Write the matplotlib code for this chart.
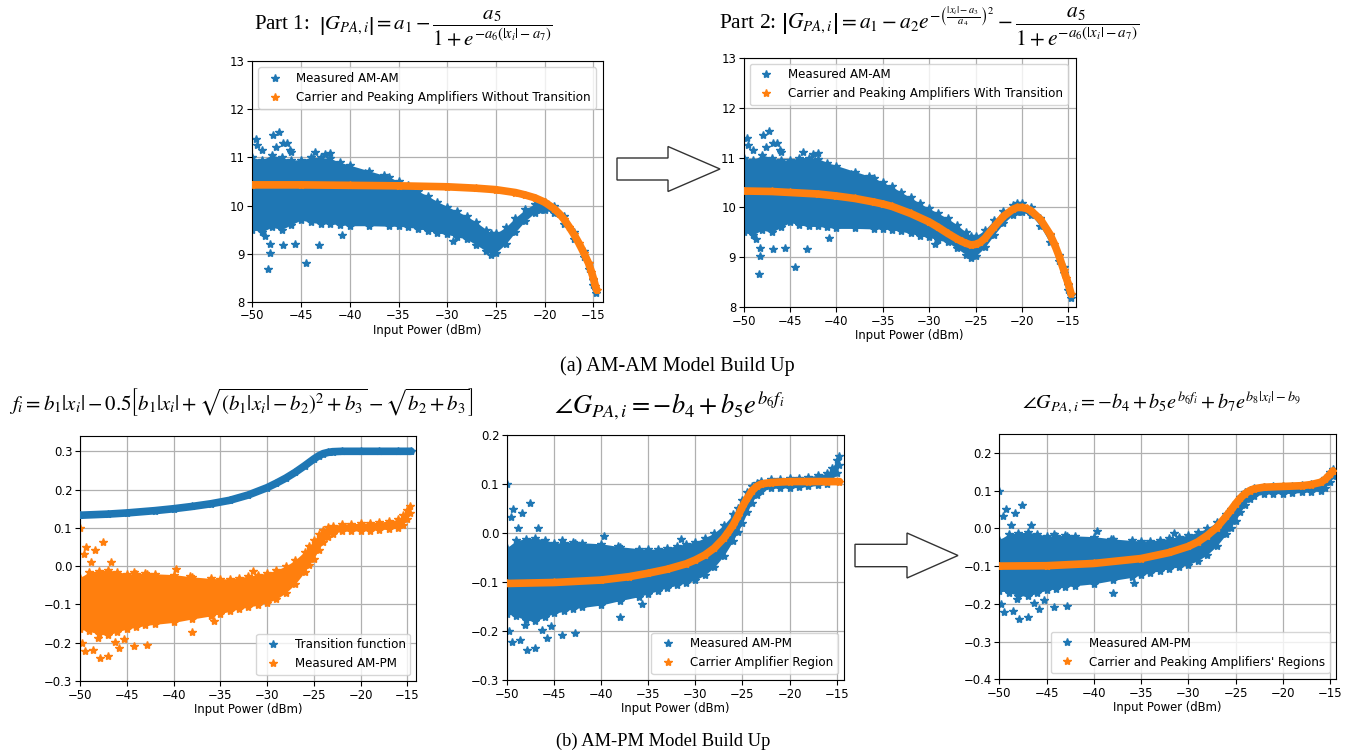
import matplotlib
matplotlib.use("Agg")
import matplotlib.pyplot as plt
from matplotlib.patches import Polygon

# ---------------- data ----------------
# Measured AM-AM cloud: envelope + isolated outliers
am_x = [-50, -49, -48, -47, -46, -45, -44, -43, -42, -41, -40, -38, -36, -35, -34, -33,
        -32, -31, -30, -29, -28, -27, -26, -25.5, -25, -24, -23, -22, -21, -20.5, -20,
        -19, -18, -17, -16, -15.5, -15, -14.7]
am_upper = [11.0, 10.95, 11.05, 11.0, 10.95, 10.95, 11.0, 11.0, 10.98, 10.9, 10.84, 10.72,
            10.6, 10.5, 10.42, 10.3, 10.2, 10.08, 9.98, 9.88, 9.78, 9.65, 9.5, 9.42, 9.42,
            9.55, 9.75, 9.92, 10.04, 10.08, 10.08, 10.0, 9.78, 9.45, 9.05, 8.8, 8.45, 8.25]
am_lower = [9.5, 9.45, 9.55, 9.5, 9.6, 9.7, 9.65, 9.62, 9.62, 9.6, 9.58, 9.58, 9.57, 9.57,
            9.55, 9.52, 9.48, 9.43, 9.4, 9.35, 9.3, 9.18, 9.05, 8.98, 9.02, 9.2, 9.45, 9.68,
            9.85, 9.9, 9.9, 9.85, 9.62, 9.3, 8.92, 8.68, 8.35, 8.18]
am_out_x = [-49.6, -49.5, -47.9, -47.3, -47.6, -46.8, -46.0, -43.6, -42.0, -42.5, -38.4,
            -36.5, -40.8, -43.2, -44.5, -45.6, -46.8, -48.2, -48.2, -48.4, -48.7, -29.4,
            -46.1, -46.4, -49.0]
am_out_y = [11.39, 11.25, 11.46, 11.53, 11.22, 11.30, 11.12, 11.12, 11.10, 11.08, 10.68,
            10.64, 9.38, 9.17, 8.81, 9.19, 9.17, 9.02, 9.19, 8.67, 9.36, 9.26, 11.15, 11.3,
            11.15]

# Part 1 model (without transition)
fit1_x = [-50, -45, -40, -35, -30, -27, -25, -23, -22, -21, -20, -19, -18.5, -18, -17.5,
          -17, -16.5, -16, -15.5, -15.2, -15, -14.8, -14.65]
fit1_y = [10.43, 10.43, 10.42, 10.41, 10.39, 10.36, 10.33, 10.27, 10.22, 10.16, 10.07,
          9.93, 9.83, 9.71, 9.56, 9.4, 9.22, 9.02, 8.8, 8.62, 8.48, 8.33, 8.24]

# Part 2 model (with transition)
fit2_x = [-50, -47, -45, -42, -40, -38, -36, -35, -34, -32, -30, -29, -28, -27, -26.5,
          -26, -25.5, -25, -24.5, -24, -23, -22, -21, -20.5, -20, -19.5, -19, -18, -17,
          -16.5, -16, -15.5, -15.2, -15, -14.7]
fit2_y = [10.33, 10.32, 10.3, 10.27, 10.23, 10.18, 10.11, 10.07, 10.02, 9.88, 9.71, 9.6,
          9.48, 9.37, 9.32, 9.28, 9.25, 9.26, 9.3, 9.38, 9.61, 9.82, 9.96, 10.0, 10.0,
          9.98, 9.93, 9.76, 9.47, 9.27, 9.03, 8.75, 8.58, 8.47, 8.27]

# Measured AM-PM cloud: envelope + isolated outliers
pm_x = [-50, -49, -48, -47, -46, -45, -44, -43, -42, -40, -38, -36, -35, -34, -33, -32,
        -31, -30, -29, -28, -27, -26, -25.5, -25, -24.5, -24, -23.5, -23, -22, -21, -20,
        -19, -18, -17, -16, -15.5, -15, -14.7]
pm_upper = [-0.03, -0.015, -0.012, -0.01, -0.014, -0.02, -0.02, -0.018, -0.02, -0.022,
            -0.028, -0.032, -0.033, -0.033, -0.03, -0.026, -0.022, -0.018, -0.01, 0.0,
            0.016, 0.038, 0.052, 0.068, 0.083, 0.095, 0.102, 0.106, 0.11, 0.111, 0.112,
            0.113, 0.115, 0.118, 0.122, 0.133, 0.148, 0.157]
pm_lower = [-0.165, -0.17, -0.178, -0.18, -0.172, -0.164, -0.16, -0.155, -0.152, -0.147,
            -0.138, -0.13, -0.124, -0.118, -0.112, -0.107, -0.102, -0.096, -0.086, -0.07,
            -0.047, -0.016, 0.002, 0.02, 0.042, 0.062, 0.077, 0.085, 0.091, 0.092, 0.092,
            0.093, 0.095, 0.097, 0.099, 0.108, 0.122, 0.138]
pm_out_x = [-47.56, -49.33, -48.37, -49.58, -46.67, -48.8, -44.2, -42.8, -39.7, -38.2,
            -31.5, -35.7, -38.0, -42.8, -44.2, -45.8, -47.0, -47.9, -49.5, -48.6, -46.3,
            -48.1, -50.0, -49.8, -45.3]
pm_out_y = [0.062, 0.05, 0.041, 0.033, 0.01, 0.01, -0.014, -0.02, -0.007, -0.027, -0.013,
            -0.144, -0.171, -0.205, -0.208, -0.215, -0.235, -0.239, -0.222, -0.218, -0.198,
            -0.188, 0.1, -0.2, -0.19]

# Transition function
trans_x = [-50, -47, -45, -42, -40, -38, -36, -34, -32, -30, -29, -28, -27, -26, -25,
           -24.5, -24, -23.5, -23, -22, -20, -18, -16, -14.6]
trans_y = [0.133, 0.136, 0.139, 0.145, 0.150, 0.156, 0.163, 0.172, 0.186, 0.205, 0.217,
           0.23, 0.245, 0.262, 0.28, 0.288, 0.294, 0.297, 0.299, 0.3, 0.3, 0.3, 0.3, 0.3]

# Carrier amplifier region model
carrier_x = [-50, -45, -40, -37, -35, -33, -31, -30, -29, -28, -27, -26.5, -26, -25.5,
             -25, -24.5, -24, -23.5, -23, -22, -20, -18, -16, -14.7]
carrier_y = [-0.103, -0.101, -0.096, -0.089, -0.082, -0.074, -0.063, -0.055, -0.045,
             -0.031, -0.011, 0.002, 0.016, 0.034, 0.054, 0.071, 0.086, 0.095, 0.1, 0.103,
             0.105, 0.105, 0.105, 0.105]

# Carrier and peaking amplifiers' regions model
full_x = [-50, -45, -40, -35, -32, -30, -29, -28, -27, -26, -25.5, -25, -24.5, -24, -23.5,
          -23, -22, -20, -18, -17, -16, -15.5, -15, -14.7]
full_y = [-0.1, -0.099, -0.093, -0.08, -0.064, -0.048, -0.036, -0.019, 0.002, 0.032,
          0.048, 0.065, 0.08, 0.092, 0.1, 0.105, 0.109, 0.111, 0.113, 0.116, 0.122, 0.13,
          0.143, 0.152]

x_ticks = [-50, -45, -40, -35, -30, -25, -20, -15]

# ---------------- drawing ----------------
plt.rcParams['mathtext.fontset'] = 'stix'
W, H = 1352, 752
fig = plt.figure(figsize=(W / 100, H / 100), dpi=100)
BLUE, ORANGE = '#1f77b4', '#ff7f0e'
FS_TICK = 8.4
FS_LEG = 8.6


def rect(l, t, r, b):
    return [l / W, 1 - b / H, (r - l) / W, (b - t) / H]


def style(ax, ylim, yticks, xmax):
    ax.set_axisbelow(True)
    ax.set_xlim(-50, xmax)
    ax.set_ylim(*ylim)
    ax.set_xticks(x_ticks)
    ax.set_yticks(yticks)
    ax.grid(True, color='#b0b0b0', lw=0.9)
    ax.tick_params(labelsize=FS_TICK, pad=2)
    ax.set_xlabel('Input Power (dBm)', fontsize=FS_TICK, labelpad=1)


def cloud(ax, x, lo, hi, ox, oy, color, label):
    ax.fill_between(x, lo, hi, color=color, lw=0, zorder=2)
    ax.plot(x, hi, '*', color=color, ms=6, zorder=2)
    ax.plot(x, lo, '*', color=color, ms=6, zorder=2)
    ax.plot(ox, oy, '*', color=color, ms=6, zorder=2, label=label)


def curve(ax, x, y, color, label):
    ax.plot(x, y, '-', color=color, lw=5.5, solid_capstyle='round', zorder=3)
    ax.plot(x, y, '*', color=color, ms=6, zorder=3, label=label)


def legend(ax, loc):
    ax.legend(loc=loc, fontsize=FS_LEG, handletextpad=0.8)


# Top-left
ax1 = fig.add_axes(rect(252.3, 61.3, 602.7, 301.7))
cloud(ax1, am_x, am_lower, am_upper, am_out_x, am_out_y, BLUE, 'Measured AM-AM')
curve(ax1, fit1_x, fit1_y, ORANGE, 'Carrier and Peaking Amplifiers Without Transition')
style(ax1, (8, 13), [8, 9, 10, 11, 12, 13], -14.05)
legend(ax1, 'upper left')

# Top-right
ax2 = fig.add_axes(rect(743.7, 57.7, 1075.7, 307.3))
cloud(ax2, am_x, am_lower, am_upper, am_out_x, am_out_y, BLUE, 'Measured AM-AM')
curve(ax2, fit2_x, fit2_y, ORANGE, 'Carrier and Peaking Amplifiers With Transition')
style(ax2, (8, 13), [8, 9, 10, 11, 12, 13], -14.2)
legend(ax2, 'upper left')

# Bottom-left
ax3 = fig.add_axes(rect(80, 436, 416.3, 681))
curve(ax3, trans_x, trans_y, BLUE, 'Transition function')
cloud(ax3, pm_x, pm_lower, pm_upper, pm_out_x, pm_out_y, ORANGE, 'Measured AM-PM')
style(ax3, (-0.3, 0.34), [-0.3, -0.2, -0.1, 0.0, 0.1, 0.2, 0.3], -14.05)
legend(ax3, 'lower right')

# Bottom-middle
ax4 = fig.add_axes(rect(507, 435, 843.7, 680))
cloud(ax4, pm_x, pm_lower, pm_upper, pm_out_x, pm_out_y, BLUE, 'Measured AM-PM')
curve(ax4, carrier_x, carrier_y, ORANGE, 'Carrier Amplifier Region')
style(ax4, (-0.3, 0.2), [-0.3, -0.2, -0.1, 0.0, 0.1, 0.2], -14.25)
legend(ax4, 'lower right')

# Bottom-right
ax5 = fig.add_axes(rect(999.3, 434, 1335.7, 679.3))
cloud(ax5, pm_x, pm_lower, pm_upper, pm_out_x, pm_out_y, BLUE, 'Measured AM-PM')
curve(ax5, full_x, full_y, ORANGE, "Carrier and Peaking Amplifiers' Regions")
style(ax5, (-0.4, 0.25), [-0.4, -0.3, -0.2, -0.1, 0.0, 0.1, 0.2], -14.4)
legend(ax5, 'lower right')


# ---------------- formulas & captions ----------------
def ftext(px, py, s, size, family='Liberation Serif'):
    fig.text(px / W, 1 - py / H, s, ha='center', va='center', fontsize=size,
             family=family)


ftext(403, 29, r"Part 1:  $\left|G_{PA,i}\right| = a_1 - \dfrac{a_5}{1+e^{-a_6(|x_i|-a_7)}}$", 15)
ftext(929, 27, r"Part 2: $\left|G_{PA,i}\right| = a_1 - a_2e^{-\left(\frac{|x_i|-a_3}{a_4}\right)^2} - \dfrac{a_5}{1+e^{-a_6(|x_i|-a_7)}}$", 15.5)
ftext(677, 366, "(a) AM-AM Model Build Up", 14.5)
ftext(242, 402, r"$f_i = b_1|x_i| - 0.5\left[b_1|x_i| + \sqrt{\left(b_1|x_i|-b_2\right)^2+b_3} - \sqrt{b_2+b_3}\right]$", 15)
ftext(669, 405, r"$\angle G_{PA,i} = -b_4 + b_5e^{b_6f_i}$", 19)
ftext(1161, 403, r"$\angle G_{PA,i} = -b_4 + b_5e^{b_6f_i} + b_7e^{b_8|x_i|-b_9}$", 14.5)
ftext(663, 741, "(b) AM-PM Model Build Up", 13.3)


# ---------------- block arrows ----------------
def block_arrow(x0, xb, xt, yc, half_shaft, half_head):
    pts = [(x0, yc - half_shaft), (xb, yc - half_shaft), (xb, yc - half_head), (xt, yc),
           (xb, yc + half_head), (xb, yc + half_shaft), (x0, yc + half_shaft)]
    pts = [(px / W, 1 - py / H) for px, py in pts]
    fig.add_artist(Polygon(pts, closed=True, transform=fig.transFigure,
                           facecolor='white', edgecolor='#333333', lw=1.0))


block_arrow(617, 668, 720, 169, 11, 22.5)
block_arrow(855, 907, 958, 555.5, 11.2, 22.5)

fig.savefig('out.png', dpi=100)
